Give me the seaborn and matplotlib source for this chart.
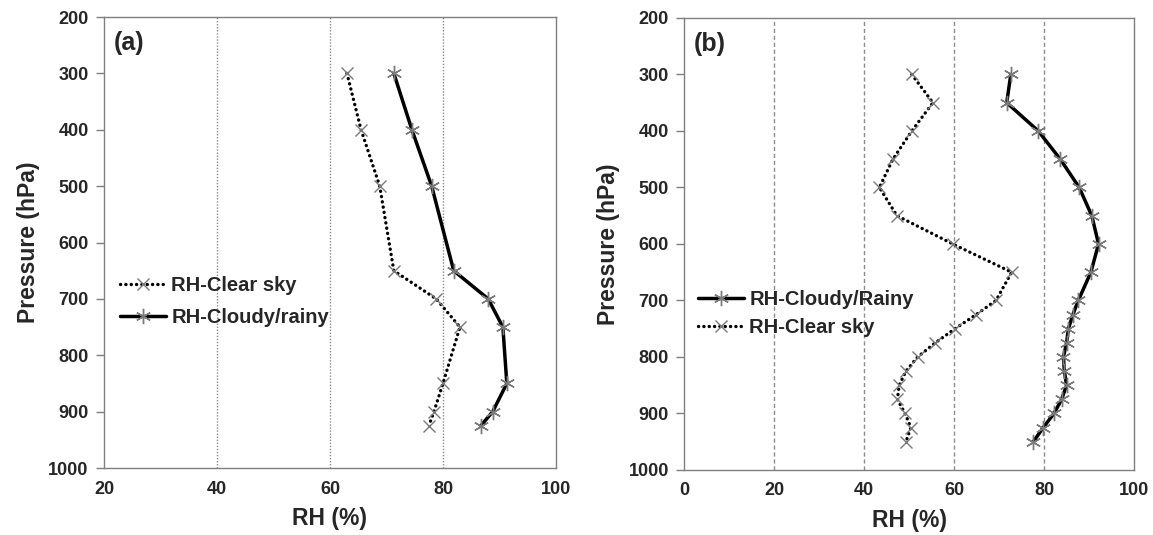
import matplotlib
matplotlib.use("Agg")
import matplotlib.pyplot as plt
import seaborn as sns
import pandas as pd

# ---- Data ----
# Panel (a)
pa_clear_p = [300, 400, 500, 650, 700, 750, 850, 900, 925]
pa_clear_rh = [63.0, 65.5, 68.8, 71.3, 78.8, 83.0, 80.0, 78.4, 77.5]
pa_cloud_p = [300, 400, 500, 650, 700, 750, 850, 900, 925]
pa_cloud_rh = [71.3, 74.5, 78.0, 81.9, 88.0, 90.6, 91.3, 88.8, 86.7]

# Panel (b)
pb_p = [300, 350, 400, 450, 500, 550, 600, 650, 700, 725, 750, 775, 800, 825, 850, 875, 900, 925, 950]
pb_cloud_rh = [72.6, 71.7, 78.7, 83.6, 87.8, 90.6, 92.1, 90.4, 87.6, 86.4, 85.4, 85.0, 84.3, 84.5, 85.0, 83.9, 82.2, 79.8, 77.6]
pb_clear_rh = [50.6, 55.3, 50.6, 46.4, 43.4, 47.3, 59.7, 72.8, 69.3, 64.9, 60.2, 55.8, 51.9, 49.3, 47.8, 47.4, 49.1, 50.4, 49.3]

pressure_ticks = [200, 300, 400, 500, 600, 700, 800, 900, 1000]
rh_ticks_a = [20, 40, 60, 80, 100]
rh_ticks_b = [0, 20, 40, 60, 80, 100]

sns.set_theme(style="white")
plt.rcParams['font.family'] = ['Liberation Sans', 'DejaVu Sans']
plt.rcParams['font.weight'] = 'bold'

fig = plt.figure(figsize=(11.53, 5.35), dpi=100)
ax_a = fig.add_axes([0.0902, 0.1252, 0.392, 0.843])
ax_b = fig.add_axes([0.5933, 0.1215, 0.3903, 0.845])

star = (6, 2, 0)
spine_col = '#7f7f7f'
solid_kw = dict(color='black', linewidth=2.5, marker=star, markersize=11,
                markeredgecolor='#7a7a7a', markeredgewidth=1.0, sort=False,
                estimator=None)
dot_kw = dict(color='black', linewidth=2.4, linestyle=(0, (0.05, 1.55)),
              dash_capstyle='round', marker='x', markersize=9,
              markeredgecolor='#7a7a7a', markeredgewidth=1.0, sort=False,
              estimator=None)

df_a_clear = pd.DataFrame({'RH': pa_clear_rh, 'P': pa_clear_p})
df_a_cloud = pd.DataFrame({'RH': pa_cloud_rh, 'P': pa_cloud_p})
df_b = pd.DataFrame({'P': pb_p, 'cloud': pb_cloud_rh, 'clear': pb_clear_rh})

sns.lineplot(data=df_a_clear, x='RH', y='P', ax=ax_a, label='RH-Clear sky', **dot_kw)
sns.lineplot(data=df_a_cloud, x='RH', y='P', ax=ax_a, label='RH-Cloudy/rainy', **solid_kw)

sns.lineplot(data=df_b, x='cloud', y='P', ax=ax_b, label='RH-Cloudy/Rainy', **solid_kw)
sns.lineplot(data=df_b, x='clear', y='P', ax=ax_b, label='RH-Clear sky', **dot_kw)

for ax, xt, grid_ls in [(ax_a, rh_ticks_a, (0, (1, 1.2))), (ax_b, rh_ticks_b, (0, (3, 2)))]:
    ax.set_xlim(xt[0], xt[-1])
    ax.set_ylim(1000, 200)
    ax.set_xticks(xt)
    ax.set_yticks(pressure_ticks)
    for v in xt[1:-1]:
        ax.axvline(v, color='#8c8c8c', linewidth=1.0, linestyle=grid_ls, zorder=0)
    for s in ax.spines.values():
        s.set_color(spine_col)
        s.set_linewidth(1.0)
    ax.tick_params(axis='y', which='major', left=True, length=6, width=1,
                   color=spine_col, pad=5, labelsize=13)
    ax.tick_params(axis='x', which='major', bottom=False, length=0, pad=9,
                   labelsize=13)
    for lab in ax.get_xticklabels() + ax.get_yticklabels():
        lab.set_fontweight('bold')
    ax.set_xlabel('RH (%)', fontsize=16.5, fontweight='bold', labelpad=7)
    ax.set_ylabel('Pressure (hPa)', fontsize=16.5, fontweight='bold', labelpad=6)
    ax.grid(False)

ax_a.text(0.022, 0.968, '(a)', transform=ax_a.transAxes, fontsize=18,
          fontweight='bold', va='top', ha='left')
ax_b.text(0.022, 0.968, '(b)', transform=ax_b.transAxes, fontsize=18,
          fontweight='bold', va='top', ha='left')

leg_a = ax_a.legend(loc='center left', bbox_to_anchor=(0.035, 0.369), frameon=False,
                    borderaxespad=0, borderpad=0, fontsize=14.5, handlelength=2.3,
                    handletextpad=0.25, labelspacing=0.62, numpoints=1)
leg_b = ax_b.legend(loc='center left', bbox_to_anchor=(0.031, 0.346), frameon=False,
                    borderaxespad=0, borderpad=0, fontsize=14.5, handlelength=2.3,
                    handletextpad=0.25, labelspacing=0.42, numpoints=1)
for leg in (leg_a, leg_b):
    for t in leg.get_texts():
        t.set_fontweight('bold')

fig.savefig('out.png', dpi=100)
